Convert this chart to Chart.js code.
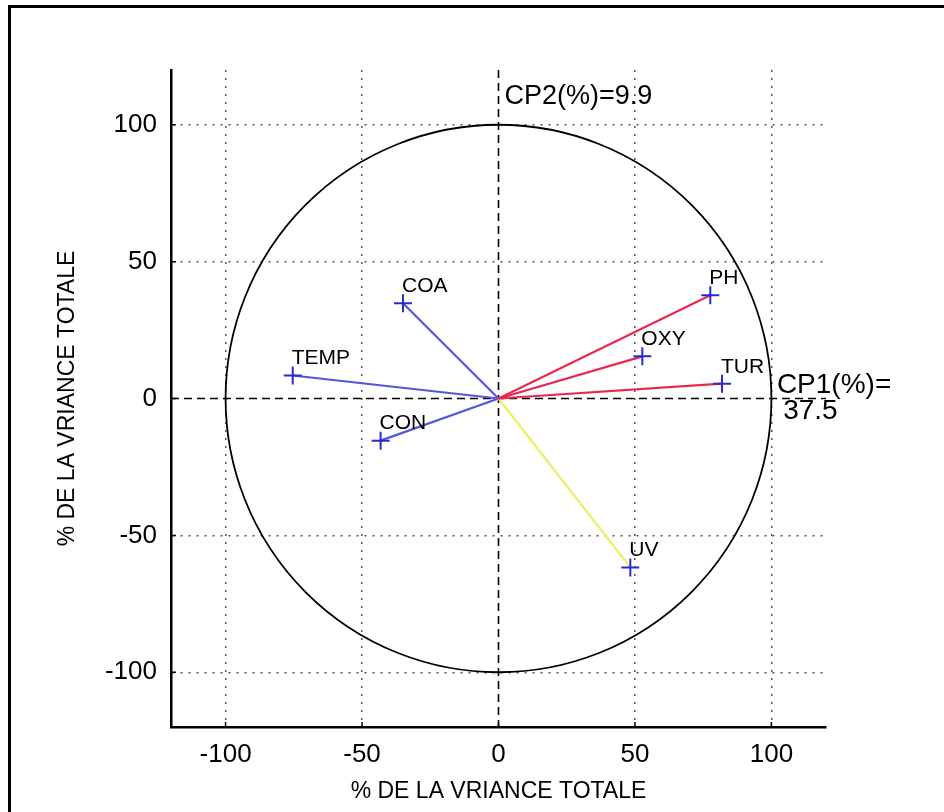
<!DOCTYPE html>
<html>
<head>
<meta charset="utf-8">
<script src="https://cdn.jsdelivr.net/npm/chart.js@4.4.1/dist/chart.umd.min.js"></script>
<style>
  html, body { margin: 0; padding: 0; background: #fff; width: 944px; height: 812px; overflow: hidden; }
  #frame { position: absolute; left: 8px; top: 5px; width: 1000px; height: 1000px; border: 3px solid #000; box-sizing: border-box; }
  #c { position: absolute; left: 0; top: 0; }
</style>
</head>
<body>
<div id="frame"></div>
<canvas id="c" width="944" height="812"></canvas>
<script>
// ---- data ----
const variables = ['PH', 'OXY', 'TUR', 'UV', 'COA', 'TEMP', 'CON'];
const cp1 = [77.6, 52.7, 81.9, 48.3, -35.0, -75.4, -43.2];
const cp2 = [37.7, 15.4, 5.4, -61.7, 34.8, 8.4, -15.4];
const tickValues = [-100, -50, 0, 50, 100];
const axisMin = -120, axisMax = 120;
const circleRadius = 100;
const axisTitle = '% DE LA VRIANCE TOTALE';
const cp1Text = ['CP1(%)=', '37.5'];
const cp2Text = 'CP2(%)=9.9';

// ---- styles ----
const lineColors = ['#e8284e', '#e8284e', '#e8284e', '#eeee66', '#5555dd', '#5555dd', '#5555dd'];
const markerColor = '#2a2ad0';
const FONT = '"Liberation Sans", Arial, sans-serif';

const datasets = variables.map((v, i) => ({
  label: v,
  data: [{x: 0, y: 0}, {x: cp1[i], y: cp2[i]}],
  showLine: true,
  borderColor: lineColors[i],
  borderWidth: 2.2,
  pointStyle: 'cross',
  pointRadius: [0, 9],
  pointHoverRadius: [0, 9],
  pointBorderColor: markerColor,
  pointBackgroundColor: markerColor,
  pointBorderWidth: 2,
  clip: false
}));

const decor = {
  id: 'decor',
  beforeDatasetsDraw(chart) {
    const {ctx, chartArea: a, scales: {x, y}} = chart;
    const cx = x.getPixelForValue(0), cy = y.getPixelForValue(0);
    ctx.save();
    // zero dashed lines
    ctx.strokeStyle = '#000';
    ctx.lineWidth = 1.6;
    ctx.setLineDash([8, 5]);
    ctx.beginPath();
    ctx.moveTo(a.left, cy); ctx.lineTo(a.right, cy);
    ctx.moveTo(cx, a.top); ctx.lineTo(cx, a.bottom);
    ctx.stroke();
    ctx.setLineDash([]);
    // circle
    const rx = x.getPixelForValue(circleRadius) - cx;
    const ry = cy - y.getPixelForValue(circleRadius);
    ctx.lineWidth = 1.8;
    ctx.beginPath();
    ctx.ellipse(cx, cy, rx, ry, 0, 0, Math.PI * 2);
    ctx.stroke();
    // inward tick marks
    ctx.lineWidth = 1.5;
    ctx.beginPath();
    tickValues.forEach(v => {
      const px = x.getPixelForValue(v);
      ctx.moveTo(px, a.bottom); ctx.lineTo(px, a.bottom - 5);
      const py = y.getPixelForValue(v);
      ctx.moveTo(a.left, py); ctx.lineTo(a.left + 5, py);
    });
    ctx.stroke();
    ctx.restore();
  },
  afterDatasetsDraw(chart) {
    const {ctx, scales: {x, y}} = chart;
    ctx.save();
    ctx.fillStyle = '#000';
    ctx.textBaseline = 'middle';
    ctx.textAlign = 'left';
    ctx.font = '21px ' + FONT;
    variables.forEach((v, i) => {
      ctx.fillText(v, x.getPixelForValue(cp1[i]) - 1, y.getPixelForValue(cp2[i]) - 17);
    });
    ctx.font = '28px ' + FONT;
    ctx.fillText(cp1Text[0], x.getPixelForValue(102), y.getPixelForValue(4.8));
    ctx.fillText(cp1Text[1], x.getPixelForValue(104.3), y.getPixelForValue(-4.7));
    ctx.font = '27px ' + FONT;
    ctx.fillText(cp2Text, x.getPixelForValue(2.2), y.getPixelForValue(110.3));
    ctx.restore();
  }
};

const gridColor = c => (c.tick && c.tick.value === 0) ? 'rgba(0,0,0,0)' : '#555';

new Chart(document.getElementById('c'), {
  type: 'scatter',
  data: { datasets },
  plugins: [decor],
  options: {
    responsive: false,
    devicePixelRatio: 1,
    animation: false,
    events: [],
    layout: { padding: { top: 70, right: 118, left: 0, bottom: 0 } },
    plugins: { legend: { display: false }, tooltip: { enabled: false } },
    scales: {
      x: {
        type: 'linear', min: axisMin, max: axisMax,
        afterBuildTicks: s => { s.ticks = tickValues.map(v => ({value: v})); },
        afterFit: s => { s.height = 85; },
        grid: { color: gridColor, lineWidth: 1.5, drawTicks: false },
        border: { display: true, color: '#000', width: 2.5, dash: [2, 6] },
        ticks: { color: '#000', font: { family: FONT, size: 26 }, padding: 12, autoSkip: false, maxRotation: 0 },
        title: { display: true, text: axisTitle, color: '#000', font: { family: FONT, size: 23 }, padding: { top: 0, bottom: 7 } }
      },
      y: {
        type: 'linear', min: axisMin, max: axisMax,
        afterBuildTicks: s => { s.ticks = tickValues.map(v => ({value: v})); },
        afterFit: s => { s.width = 171; },
        grid: { color: gridColor, lineWidth: 1.5, drawTicks: false },
        border: { display: true, color: '#000', width: 2.5, dash: [2, 6] },
        ticks: { color: '#000', font: { family: FONT, size: 26 }, padding: 14, autoSkip: false },
        title: { display: true, text: axisTitle, color: '#000', font: { family: FONT, size: 23 }, padding: { top: 54, bottom: 0 } }
      }
    }
  }
});
</script>
</body>
</html>
